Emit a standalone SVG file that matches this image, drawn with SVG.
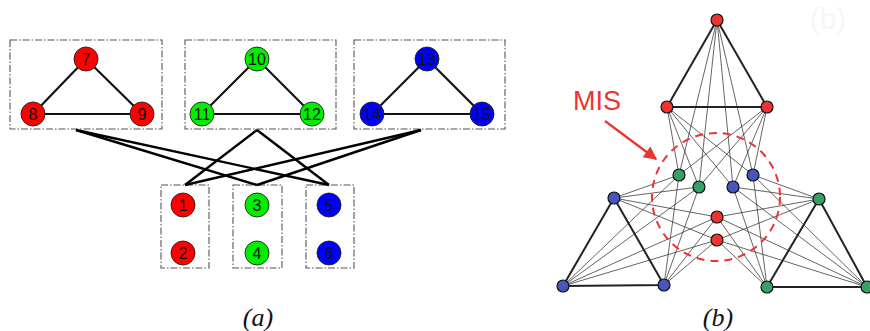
<svg xmlns="http://www.w3.org/2000/svg" width="870" height="331" viewBox="0 0 870 331">
<defs>
<style>
.box{fill:none;stroke:#555;stroke-width:1.1;stroke-dasharray:7 2 1.5 2}
.tri{stroke:#111;stroke-width:2.2;fill:none}
.lnk{stroke:#000;stroke-width:2.4;fill:none}
.n{stroke:#222;stroke-width:0.9}
.r{fill:#ff0000}.g{fill:#00ee00}.b{fill:#0000ff}
.lab{font-family:"Liberation Sans",Arial,sans-serif;font-size:16px;text-anchor:middle;fill:#111}
.thin{stroke:#222;stroke-width:0.7;fill:none}
.thick{stroke:#222;stroke-width:2;fill:none}
.sn{stroke:#111;stroke-width:1.2}
.sr{fill:#ee3333}.sg{fill:#36a066}.sb{fill:#4656bb}
.cap{font-family:"Liberation Serif","Times New Roman",serif;font-style:italic;font-size:26px;text-anchor:middle;fill:#111}
</style>
<marker id="ah" viewBox="0 0 10 10" refX="9" refY="5" markerWidth="7" markerHeight="6" orient="auto" markerUnits="strokeWidth">
<path d="M0,0 L10,5 L0,10 z" fill="#ee3333"/>
</marker>
</defs>
<rect width="870" height="331" fill="#fff"/>
<text x="828" y="29" font-family="Liberation Sans,Arial,sans-serif" font-size="30" text-anchor="middle" fill="#f6f6f6">(b)</text>

<!-- (a) boxes -->
<g id="boxes">
<rect class="box" x="10" y="40" width="152" height="89"/>
<rect class="box" x="185" y="40" width="151" height="89"/>
<rect class="box" x="354" y="40" width="151" height="89"/>
<rect class="box" x="161" y="185" width="48" height="83"/>
<rect class="box" x="233" y="185" width="49" height="83"/>
<rect class="box" x="306" y="185" width="48" height="83"/>
</g>

<g id="connectors-a">
<line class="tri" x1="86" y1="59" x2="33" y2="114"/>
<line class="tri" x1="86" y1="59" x2="142" y2="114"/>
<line class="tri" x1="33" y1="114" x2="142" y2="114"/>
<line class="tri" x1="257" y1="59" x2="202" y2="114"/>
<line class="tri" x1="257" y1="59" x2="312" y2="114"/>
<line class="tri" x1="202" y1="114" x2="312" y2="114"/>
<line class="tri" x1="427" y1="59" x2="372" y2="114"/>
<line class="tri" x1="427" y1="59" x2="482" y2="114"/>
<line class="tri" x1="372" y1="114" x2="482" y2="114"/>
<line class="lnk" x1="76" y1="130" x2="257" y2="185"/>
<line class="lnk" x1="76" y1="130" x2="329" y2="185"/>
<line class="lnk" x1="257" y1="130" x2="185" y2="185"/>
<line class="lnk" x1="257" y1="130" x2="329" y2="185"/>
<line class="lnk" x1="421" y1="130" x2="185" y2="185"/>
<line class="lnk" x1="421" y1="130" x2="257" y2="185"/>
</g>

<g id="n7"><circle class="n r" cx="86" cy="59" r="12"/><text class="lab" x="86" y="65">7</text></g>
<g id="n8"><circle class="n r" cx="33" cy="114" r="12"/><text class="lab" x="33" y="120">8</text></g>
<g id="n9"><circle class="n r" cx="142" cy="114" r="12"/><text class="lab" x="142" y="120">9</text></g>
<g id="n10"><circle class="n g" cx="257" cy="59" r="12"/><text class="lab" x="257" y="65">10</text></g>
<g id="n11"><circle class="n g" cx="202" cy="114" r="12"/><text class="lab" x="202" y="120">11</text></g>
<g id="n12"><circle class="n g" cx="312" cy="114" r="12"/><text class="lab" x="312" y="120">12</text></g>
<g id="n13"><circle class="n b" cx="427" cy="59" r="12"/><text class="lab" x="427" y="65">13</text></g>
<g id="n14"><circle class="n b" cx="372" cy="114" r="12"/><text class="lab" x="372" y="120">14</text></g>
<g id="n15"><circle class="n b" cx="482" cy="114" r="12"/><text class="lab" x="482" y="120">15</text></g>
<g id="n1"><circle class="n r" cx="183" cy="205" r="12"/><text class="lab" x="183" y="211">1</text></g>
<g id="n2"><circle class="n r" cx="183" cy="253" r="12"/><text class="lab" x="183" y="259">2</text></g>
<g id="n3"><circle class="n g" cx="257" cy="205" r="12"/><text class="lab" x="257" y="211">3</text></g>
<g id="n4"><circle class="n g" cx="257" cy="253" r="12"/><text class="lab" x="257" y="259">4</text></g>
<g id="n5"><circle class="n b" cx="329" cy="205" r="12"/><text class="lab" x="329" y="211">5</text></g>
<g id="n6"><circle class="n b" cx="329" cy="253" r="12"/><text class="lab" x="329" y="259">6</text></g>

<text class="cap" x="258" y="326">(a)</text>

<!-- (b) -->
<g id="connectors-b">
<path class="thin" d="M717,20L679,175M717,20L699,187M717,20L733,187M717,20L753,175
M667,107L679,175M667,107L699,187M667,107L733,187M667,107L753,175
M767,107L679,175M767,107L699,187M767,107L733,187M767,107L753,175"/>
<path class="thin" d="M614,198L679,175M614,198L699,187M614,198L717,217M614,198L717,240
M563,286L679,175M563,286L699,187M563,286L717,217M563,286L717,240
M664,285L679,175M664,285L699,187M664,285L717,217M664,285L717,240"/>
<path class="thin" d="M819,199L733,187M819,199L753,175M819,199L717,217M819,199L717,240
M867,287L733,187M867,287L753,175M867,287L717,217M867,287L717,240
M767,287L733,187M767,287L753,175M767,287L717,217M767,287L717,240"/>
<path class="thick" d="M717,20L667,107L767,107Z"/>
<path class="thick" d="M614,198L563,286L664,285Z"/>
<path class="thick" d="M819,199L767,287L867,287Z"/>
</g>

<g id="mis-region">
<circle cx="716" cy="197" r="64" fill="none" stroke="#ee3333" stroke-width="2" stroke-dasharray="8 6"/>
<text x="597" y="110" font-family="Liberation Sans,Arial,sans-serif" font-size="27" text-anchor="middle" fill="#ee3333">MIS</text>
<line x1="605" y1="121" x2="656" y2="159" stroke="#ee3333" stroke-width="2.2" marker-end="url(#ah)"/>
</g>

<g id="bT"><circle class="sn sr" cx="717" cy="20" r="6"/></g>
<g id="bA"><circle class="sn sr" cx="667" cy="107" r="6"/></g>
<g id="bB"><circle class="sn sr" cx="767" cy="107" r="6"/></g>
<g id="bL1"><circle class="sn sb" cx="614" cy="198" r="6"/></g>
<g id="bL2"><circle class="sn sb" cx="563" cy="286" r="6"/></g>
<g id="bL3"><circle class="sn sb" cx="664" cy="285" r="6"/></g>
<g id="bR1"><circle class="sn sg" cx="819" cy="199" r="6"/></g>
<g id="bR2"><circle class="sn sg" cx="767" cy="287" r="6"/></g>
<g id="bR3"><circle class="sn sg" cx="867" cy="287" r="6"/></g>
<g id="bG1"><circle class="sn sg" cx="679" cy="175" r="6"/></g>
<g id="bG2"><circle class="sn sg" cx="699" cy="187" r="6"/></g>
<g id="bU1"><circle class="sn sb" cx="733" cy="187" r="6"/></g>
<g id="bU2"><circle class="sn sb" cx="753" cy="175" r="6"/></g>
<g id="bM1"><circle class="sn sr" cx="717" cy="217" r="6"/></g>
<g id="bM2"><circle class="sn sr" cx="717" cy="240" r="6"/></g>

<text class="cap" x="718" y="326">(b)</text>
</svg>
